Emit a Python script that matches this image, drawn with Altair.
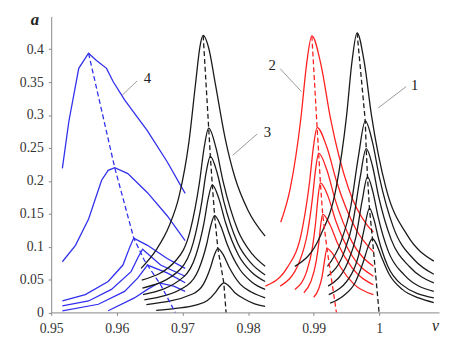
import altair as alt
import pandas as pd

# ---------------- data ----------------
X_TICKS = [0.95, 0.96, 0.97, 0.98, 0.99, 1.0]
Y_TICKS = [0, 0.05, 0.1, 0.15, 0.2, 0.25, 0.3, 0.35, 0.4]

# family 4 (blue)
F4_X = [
    [0.9517, 0.9527, 0.9542, 0.95569, 0.9569, 0.95843, 0.95943, 0.96118, 0.96467, 0.96767, 0.97041],
    [0.9517, 0.9537, 0.9557, 0.95768, 0.95868, 0.95968, 0.96168, 0.96467, 0.96767, 0.97041],
    [0.9517, 0.9552, 0.95868, 0.96093, 0.9620, 0.96258, 0.96467, 0.96767, 0.97041],
    [0.9517, 0.95569, 0.95918, 0.96217, 0.9633, 0.96392, 0.96667, 0.97041],
    [0.9517, 0.95719, 0.96118, 0.96317, 0.96467, 0.96767, 0.97041],
    [0.95868, 0.96268, 0.96467, 0.96642, 0.96867, 0.97041],
]
F4_Y = [
    [0.219, 0.291, 0.371, 0.394, 0.383, 0.371, 0.351, 0.323, 0.276, 0.229, 0.181],
    [0.077, 0.102, 0.142, 0.201, 0.216, 0.220, 0.211, 0.182, 0.147, 0.109],
    [0.0174, 0.027, 0.047, 0.072, 0.100, 0.113, 0.102, 0.082, 0.067],
    [0.010, 0.0174, 0.035, 0.062, 0.085, 0.096, 0.072, 0.055],
    [0.0025, 0.0124, 0.032, 0.052, 0.072, 0.060, 0.045],
    [0.0025, 0.022, 0.035, 0.045, 0.040, 0.032],
]
F4_BX = [0.95569, 0.95968, 0.96258, 0.96417, 0.96667, 0.96891]
F4_BY = [0.394, 0.220, 0.113, 0.0796, 0.042, 0.0]

# family 3 (black, left)
F3_X = [
    [0.9637, 0.9660, 0.9680, 0.9695, 0.9710, 0.9720, 0.9727, 0.97316, 0.9740, 0.9750, 0.9765, 0.9780, 0.9800, 0.9826],
    [0.9638, 0.9691, 0.9712, 0.9726, 0.9733, 0.9740, 0.97511, 0.97622, 0.97844, 0.98066, 0.9826],
    [0.9639, 0.9697, 0.97165, 0.97295, 0.9736, 0.97425, 0.97529, 0.97632, 0.97839, 0.98046, 0.9826],
    [0.9640, 0.97018, 0.97205, 0.9733, 0.97392, 0.97455, 0.97555, 0.97655, 0.97855, 0.98055, 0.9826],
    [0.9642, 0.9707, 0.9725, 0.9737, 0.9743, 0.9749, 0.97585, 0.9768, 0.9787, 0.9806, 0.9826],
    [0.9645, 0.97155, 0.9732, 0.9743, 0.97485, 0.9754, 0.97625, 0.9771, 0.9788, 0.9805, 0.9826],
    [0.9660, 0.9690, 0.9720, 0.9738, 0.9750, 0.9758, 0.9763, 0.9770, 0.9780, 0.9795, 0.9810, 0.9826],
]
F3_Y = [
    [0.067, 0.095, 0.132, 0.177, 0.260, 0.348, 0.406, 0.421, 0.402, 0.348, 0.265, 0.205, 0.155, 0.116],
    [0.049, 0.080, 0.125, 0.198, 0.250, 0.280, 0.250, 0.198, 0.125, 0.0885, 0.070],
    [0.037, 0.066, 0.106, 0.168, 0.212, 0.237, 0.212, 0.168, 0.106, 0.075, 0.057],
    [0.027, 0.054, 0.087, 0.137, 0.173, 0.194, 0.173, 0.137, 0.087, 0.061, 0.047],
    [0.019, 0.041, 0.066, 0.104, 0.131, 0.147, 0.131, 0.104, 0.066, 0.046, 0.035],
    [0.012, 0.028, 0.043, 0.069, 0.087, 0.097, 0.087, 0.069, 0.043, 0.031, 0.022],
    [0.003, 0.006, 0.011, 0.018, 0.030, 0.041, 0.045, 0.041, 0.030, 0.020, 0.013, 0.009],
]
F3_BX = [0.97316, 0.9740, 0.97425, 0.97455, 0.9749, 0.9754, 0.9763, 0.97665]
F3_BY = [0.421, 0.280, 0.237, 0.194, 0.147, 0.097, 0.045, 0.0]

# family 2 (red)
F2_X = [
    [0.98498, 0.98642, 0.98807, 0.9889, 0.98972, 0.99112, 0.99252, 0.99532, 0.99812, 0.9991],
    [0.98264, 0.98596, 0.98824, 0.98938, 0.98995, 0.99052, 0.99201, 0.99349, 0.99646, 0.9991],
    [0.9849, 0.98782, 0.98909, 0.98978, 0.99027, 0.99076, 0.99202, 0.99328, 0.9958, 0.9991],
    [0.98713, 0.98892, 0.98983, 0.99032, 0.99067, 0.99102, 0.9922, 0.99337, 0.99572, 0.9991],
    [0.9885, 0.98957, 0.99035, 0.99077, 0.99107, 0.99137, 0.9925, 0.99364, 0.99591, 0.9991],
    [0.9900, 0.99077, 0.99127, 0.99167, 0.99202, 0.99305, 0.99407, 0.99612, 0.9991],
]
F2_Y = [
    [0.137, 0.188, 0.297, 0.376, 0.4204, 0.376, 0.297, 0.188, 0.133, 0.122],
    [0.040, 0.068, 0.126, 0.199, 0.251, 0.281, 0.251, 0.199, 0.126, 0.092],
    [0.040, 0.077, 0.123, 0.171, 0.216, 0.242, 0.216, 0.171, 0.108, 0.070],
    [0.035, 0.062, 0.100, 0.139, 0.176, 0.197, 0.176, 0.139, 0.088, 0.055],
    [0.030, 0.047, 0.076, 0.105, 0.133, 0.149, 0.133, 0.105, 0.067, 0.042],
    [0.023, 0.036, 0.054, 0.080, 0.097, 0.087, 0.069, 0.043, 0.027],
]
F2_BX = [0.98972, 0.99052, 0.99076, 0.99102, 0.99137, 0.99202, 0.99346]
F2_BY = [0.4204, 0.281, 0.242, 0.197, 0.149, 0.097, 0.0]

# family 1 (black, right)
F1_X = [
    [0.98713, 0.99104, 0.99343, 0.99502, 0.99582, 0.99661, 0.99771, 0.9988, 1.00099, 1.00428, 1.0083],
    [0.9921, 0.99418, 0.99565, 0.99683, 0.99786, 0.99893, 1.0, 1.00212, 1.00532, 1.0083],
    [0.9921, 0.99465, 0.99599, 0.99706, 0.9980, 0.99895, 0.9999, 1.0018, 1.00465, 1.0083],
    [0.9922, 0.99523, 0.99642, 0.99737, 0.9982, 0.999, 0.9998, 1.0014, 1.0038, 1.0083],
    [0.9923, 0.9958, 0.99688, 0.99774, 0.9985, 0.99919, 0.99988, 1.00126, 1.00333, 1.0083],
    [0.9925, 0.9945, 0.9963, 0.9975, 0.9983, 0.99895, 0.9995, 1.0003, 1.0015, 1.0035, 1.0060, 1.0083],
]
F1_Y = [
    [0.070, 0.117, 0.190, 0.300, 0.380, 0.425, 0.380, 0.300, 0.190, 0.117, 0.078],
    [0.070, 0.108, 0.161, 0.238, 0.291, 0.260, 0.206, 0.130, 0.080, 0.058],
    [0.055, 0.092, 0.138, 0.204, 0.249, 0.223, 0.176, 0.111, 0.069, 0.045],
    [0.040, 0.077, 0.114, 0.169, 0.206, 0.184, 0.146, 0.092, 0.057, 0.032],
    [0.027, 0.059, 0.088, 0.129, 0.158, 0.141, 0.112, 0.071, 0.043, 0.022],
    [0.014, 0.025, 0.045, 0.075, 0.100, 0.112, 0.105, 0.085, 0.058, 0.035, 0.022, 0.015],
]
F1_BX = [0.99661, 0.99786, 0.9980, 0.9982, 0.9985, 0.99895, 0.99996]
F1_BY = [0.425, 0.291, 0.249, 0.206, 0.158, 0.112, 0.0]

# curve labels and leader lines
LABELS = ["1", "2", "3", "4"]
LABEL_X = [1.00539, 0.98368, 0.98293, 0.96467]
LABEL_Y = [0.346, 0.376, 0.2746, 0.3567]
LEAD_X1 = [1.00409, 0.98488, 0.98139, 0.96308]
LEAD_Y1 = [0.3433, 0.3706, 0.2712, 0.3518]
LEAD_X2 = [0.99985, 0.98812, 0.97765, 0.96078]
LEAD_Y2 = [0.3109, 0.3358, 0.2388, 0.3299]

# ---------------- build tables ----------------
def curves(fam, xs, ys, tag):
    rows = []
    for i, (cx, cy) in enumerate(zip(xs, ys)):
        for j, (a, b) in enumerate(zip(cx, cy)):
            rows.append({"x": a, "y": b, "fam": fam, "id": f"{tag}{i}", "o": j})
    return rows

def backbone(fam, bx, by, tag):
    return [{"x": a, "y": b, "fam": fam, "id": tag, "o": j} for j, (a, b) in enumerate(zip(bx, by))]

blue = pd.DataFrame(curves("blue", F4_X, F4_Y, "f4_"))
smooth = pd.DataFrame(
    curves("black", F3_X, F3_Y, "f3_") + curves("red", F2_X, F2_Y, "f2_") + curves("black", F1_X, F1_Y, "f1_")
)
dashed = pd.DataFrame(
    backbone("blue", F4_BX, F4_BY, "b4") + backbone("black", F3_BX, F3_BY, "b3")
    + backbone("red", F2_BX, F2_BY, "b2") + backbone("black", F1_BX, F1_BY, "b1")
)
labels = pd.DataFrame({"t": LABELS, "x": LABEL_X, "y": LABEL_Y})
leads = pd.DataFrame({"x": LEAD_X1, "y": LEAD_Y1, "x2": LEAD_X2, "y2": LEAD_Y2})

FONT = "Liberation Serif"
xsc = alt.Scale(domain=[0.95, 1.0091], nice=False, zero=False)
ysc = alt.Scale(domain=[0, 0.45], nice=False, zero=False)
col = alt.Color("fam:N", scale=alt.Scale(domain=["blue", "black", "red"],
                                         range=["#3030ee", "#1a1a1a", "#ff2020"]), legend=None)

xax = alt.Axis(values=X_TICKS, format="~g", labelFlush=False, labelFont=FONT, labelFontSize=14,
               labelColor="#333333", labelPadding=6,
               title="ν", titleFont=FONT, titleFontStyle="italic",
               titleFontWeight="normal", titleFontSize=16, titleX=391, titleY=13,
               titleAlign="center", titleBaseline="middle", titleColor="#222")
yax = alt.Axis(values=Y_TICKS, format="~g", labelFont=FONT, labelFontSize=14,
               labelColor="#333333", labelPadding=5,
               title="a", titleFont=FONT, titleFontStyle="italic",
               titleFontWeight="bold", titleFontSize=17, titleAngle=0, titleX=-17, titleY=3,
               titleAlign="center", titleBaseline="middle", titleColor="#222")

X = alt.X("x:Q", scale=xsc, axis=xax)
Y = alt.Y("y:Q", scale=ysc, axis=yax)

l_blue = alt.Chart(blue).mark_line(strokeWidth=1.3, interpolate="linear").encode(
    x=X, y=Y, color=col, detail="id:N", order="o:Q")
l_smooth = alt.Chart(smooth).mark_line(strokeWidth=1.3, interpolate="monotone").encode(
    x=X, y=Y, color=col, detail="id:N", order="o:Q")
l_dash = alt.Chart(dashed).mark_line(strokeWidth=1.3, strokeDash=[5, 3]).encode(
    x=X, y=Y, color=col, detail="id:N", order="o:Q")
l_lead = alt.Chart(leads).mark_rule(color="#808080", strokeWidth=0.8).encode(
    x=X, y=Y, x2="x2:Q", y2="y2:Q")
l_text = alt.Chart(labels).mark_text(font=FONT, fontSize=15, color="#222").encode(
    x=X, y=Y, text="t:N")

chart = alt.layer(l_blue, l_smooth, l_dash, l_lead, l_text).properties(
    width=395, height=301.5,
    autosize=alt.AutoSizeParams(type="none"),
    padding={"left": 44, "top": 5.5, "right": 2, "bottom": 22},
).configure_view(stroke=None).configure_axis(
    grid=False, domainColor="#888888", tickColor="#888888", tickSize=3,
)

chart.save("out.html", embed_options={"renderer": "svg", "actions": False})
